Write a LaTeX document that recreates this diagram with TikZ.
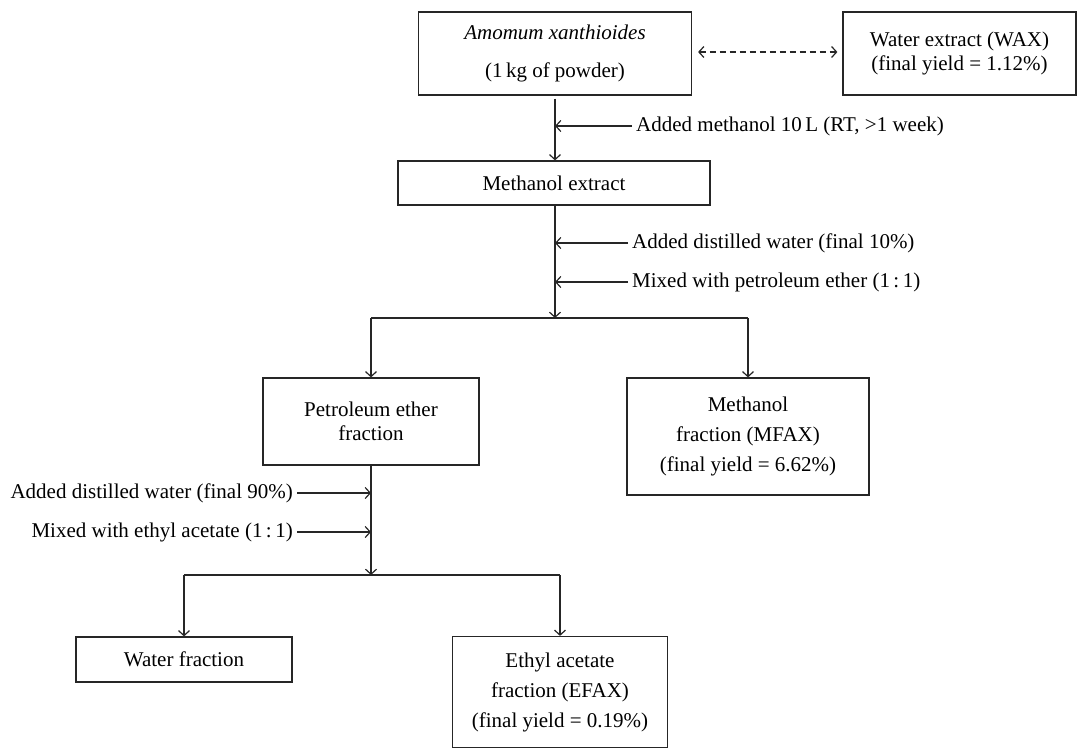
\documentclass[tikz,border=0pt]{standalone}
\usepackage{fontspec}
\setmainfont{Liberation Serif}
\usetikzlibrary{arrows.meta}
\tikzset{
  box/.style={draw=black!85, line width=1.2pt, align=center, inner sep=0pt,
    font=\fontsize{21}{24}\selectfont},
  wide/.style={font=\fontsize{21}{30}\selectfont},
  lab/.style={inner sep=4pt, font=\fontsize{21}{24}\selectfont},
  arr/.style={draw=black!85, line width=1.2pt, -{Straight Barb[length=5pt,width=11pt]}},
  ln/.style={draw=black!85, line width=1.2pt},
  darr/.style={draw=black!85, line width=1.2pt, dash pattern=on 6pt off 4pt,
    {Straight Barb[length=5pt,width=11pt]}-{Straight Barb[length=5pt,width=11pt]}}
}
\begin{document}
\begin{tikzpicture}[x=1pt,y=-1pt]
\useasboundingbox (0,0) rectangle (1085,750);
% boxes
\node[box, minimum width=273pt, minimum height=83pt] (top) at (555,53.5)
  {\textit{Amomum xanthioides}\\[14pt](1\,kg of powder)};
\node[box, minimum width=233pt, minimum height=83pt] (wax) at (959.5,53.5)
  {Water extract (WAX)\\(final yield = 1.12\%)};
\node[box, minimum width=312pt, minimum height=44pt] (me) at (554,183)
  {Methanol extract};
\node[box, minimum width=216pt, minimum height=87pt] (pe) at (371,421.5)
  {Petroleum ether\\fraction};
\node[box, wide, minimum width=242pt, minimum height=117pt] (mf) at (748,436.5)
  {Methanol\\fraction (MFAX)\\(final yield = 6.62\%)};
\node[box, minimum width=216pt, minimum height=45pt] (wf) at (184,659.5)
  {Water fraction};
\node[box, wide, minimum width=215pt, minimum height=111pt] (ef) at (560,692)
  {Ethyl acetate\\fraction (EFAX)\\(final yield = 0.19\%)};
% labels
\node[lab, anchor=west] (l1) at (632,126) {Added methanol 10\,L (RT, >1 week)};
\node[lab, anchor=west] (l2) at (628,243) {Added distilled water (final 10\%)};
\node[lab, anchor=west] (l3) at (628,282) {Mixed with petroleum ether (1\,:\,1)};
\node[lab, anchor=east] (l4) at (297,493) {Added distilled water (final 90\%)};
\node[lab, anchor=east] (l5) at (297,532) {Mixed with ethyl acetate (1\,:\,1)};
% junction coordinates
\coordinate (j1) at (555,318);
\coordinate (j1l) at (pe.north |- j1);
\coordinate (j1r) at (mf.north |- j1);
\coordinate (j2) at (371,575);
\coordinate (j2l) at (wf.north |- j2);
\coordinate (j2r) at (ef.north |- j2);
% connectors
\draw[darr] ([xshift=6pt]top.east |- 0,52) -- ([xshift=-5pt]wax.west |- 0,52);
\draw[arr] ([yshift=-3pt]top.south) -- (top.south |- me.north);
\draw[arr] (l1.west) -- (l1.west -| top.south);
\draw[arr] (me.south -| j1) -- (j1);
\draw[arr] (l2.west) -- (l2.west -| j1);
\draw[arr] (l3.west) -- (l3.west -| j1);
\draw[ln] (j1l) -- (j1r);
\draw[arr] (j1l) -- (pe.north);
\draw[arr] (j1r) -- (mf.north);
\draw[arr] (pe.south) -- (j2);
\draw[arr] (l4.east) -- (l4.east -| pe.south);
\draw[arr] (l5.east) -- (l5.east -| pe.south);
\draw[ln] (j2l) -- (j2r);
\draw[arr] (j2l) -- (wf.north);
\draw[arr] (j2r) -- (ef.north);
\end{tikzpicture}
\end{document}
